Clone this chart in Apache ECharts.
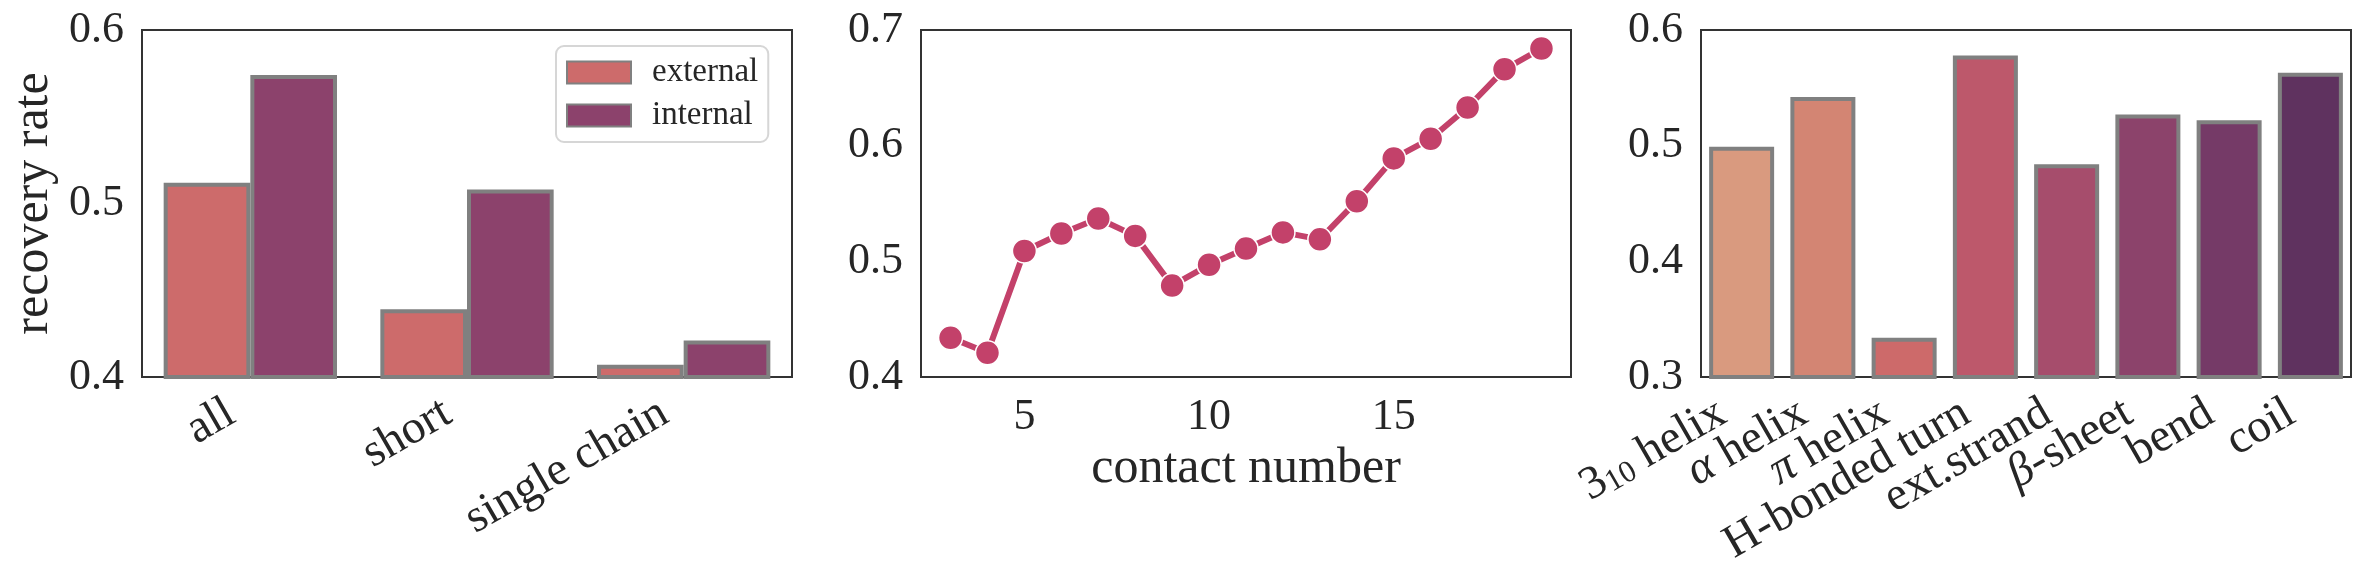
<!DOCTYPE html>
<html>
<head>
<meta charset="utf-8">
<script src="https://cdn.jsdelivr.net/npm/echarts@6/dist/echarts.min.js"></script>
<style>
  html, body { margin: 0; padding: 0; background: #fff; }
  #chart { width: 2365px; height: 583px; }
</style>
</head>
<body>
<div id="chart"></div>
<script>
  // panel 1: recovery rate by chain type
  const chainTypes = ["all", "short", "single chain"];
  const externalRate = [0.512, 0.439, 0.407];
  const internalRate = [0.574, 0.508, 0.421];

  // panel 2: recovery rate by contact number
  const contactNumbers = [3, 4, 5, 6, 7, 8, 9, 10, 11, 12, 13, 14, 15, 16, 17, 18, 19];
  const contactRate = [0.434, 0.421, 0.509, 0.524, 0.537, 0.522, 0.479, 0.497, 0.511,
                       0.525, 0.519, 0.552, 0.589, 0.606, 0.633, 0.666, 0.684];
  const contactTicks = [5, 10, 15];

  // panel 3: recovery rate by secondary structure
  const structures = ["3{sub|10} helix", "{g|α} helix", "{g|π} helix", "H-bonded turn",
                      "ext.strand", "{g|β}-sheet", "bend", "coil"];
  const structureRate = [0.499, 0.542, 0.334, 0.578, 0.484, 0.527, 0.522, 0.563];
  const structureColors = ["#d99a7f", "#d38573", "#cd6a6a", "#bd586b",
                           "#a64d6c", "#8c436b", "#753a67", "#5f325f"];

  const font = "'Liberation Serif', 'DejaVu Serif', serif";
  const textColor = "#262626";
  const edge = "#808080";

  const chart = echarts.init(document.getElementById("chart"));

  function yAxisFor(idx, min, max, extra) {
    return Object.assign({
      type: "value",
      gridIndex: idx,
      min: min,
      max: max,
      interval: 0.1,
      splitLine: { show: false },
      axisTick: { show: false },
      axisLine: { show: false },
      axisLabel: {
        margin: 18,
        fontFamily: font,
        fontSize: 44,
        color: textColor,
        formatter: v => v.toFixed(1)
      }
    }, extra || {});
  }

  const gridBase = { show: true, borderColor: "#333", borderWidth: 2, backgroundColor: "transparent" };

  // rotated tick labels: matplotlib puts the rotated box's right edge on the tick
  const rotatedLabel = {
    interval: 0,
    rotate: 30,
    margin: 22,
    padding: [0, 22, 0, 0],
    fontFamily: font,
    fontSize: 47,
    color: textColor
  };

  const option = {
    animation: false,
    grid: [
      Object.assign({ left: 142, top: 30, width: 650, height: 347 }, gridBase),
      Object.assign({ left: 921, top: 30, width: 650, height: 347 }, gridBase),
      Object.assign({ left: 1701, top: 30, width: 650, height: 347 }, gridBase)
    ],
    legend: {
      data: ["external", "internal"],
      orient: "vertical",
      left: 556,
      top: 46,
      padding: [10, 10, 10, 10],
      itemWidth: 64,
      itemHeight: 22,
      itemGap: 10,
      icon: "rect",
      backgroundColor: "#fff",
      borderColor: "#d6d6d6",
      borderWidth: 2,
      borderRadius: 8,
      textStyle: { fontFamily: font, fontSize: 33, color: textColor, padding: [0, 0, 0, 16] }
    },
    xAxis: [
      {
        type: "category",
        gridIndex: 0,
        data: chainTypes,
        axisTick: { show: false },
        axisLine: { show: false },
        axisLabel: rotatedLabel
      },
      {
        type: "value",
        gridIndex: 1,
        min: 2.2,
        max: 19.8,
        splitLine: { show: false },
        axisTick: { show: false },
        axisLine: { show: false },
        axisLabel: { customValues: contactTicks, margin: 18, fontFamily: font, fontSize: 44, color: textColor },
        name: "contact number",
        nameLocation: "middle",
        nameGap: 64,
        nameTextStyle: { fontFamily: font, fontSize: 50, color: textColor }
      },
      {
        type: "category",
        gridIndex: 2,
        data: structures,
        axisTick: { show: false },
        axisLine: { show: false },
        axisLabel: Object.assign({}, rotatedLabel, {
          rich: {
            sub: { fontFamily: font, fontSize: 31, color: textColor, padding: [15, 0, 0, 0] },
            g: { fontFamily: font, fontSize: 47, fontStyle: "italic", color: textColor }
          }
        })
      }
    ],
    yAxis: [
      yAxisFor(0, 0.4, 0.6, {
        name: "recovery rate",
        nameLocation: "middle",
        nameRotate: 90,
        nameGap: 83,
        nameTextStyle: { fontFamily: font, fontSize: 50, color: textColor }
      }),
      yAxisFor(1, 0.4, 0.7),
      yAxisFor(2, 0.3, 0.6)
    ],
    series: [
      {
        name: "external",
        type: "bar",
        xAxisIndex: 0,
        yAxisIndex: 0,
        data: externalRate,
        barGap: "0%",
        barCategoryGap: "20%",
        itemStyle: { color: "#cd6b6b", borderColor: edge, borderWidth: 4 }
      },
      {
        name: "internal",
        type: "bar",
        xAxisIndex: 0,
        yAxisIndex: 0,
        data: internalRate,
        barGap: "0%",
        barCategoryGap: "20%",
        itemStyle: { color: "#8c426c", borderColor: edge, borderWidth: 4 }
      },
      {
        name: "contact",
        type: "line",
        xAxisIndex: 1,
        yAxisIndex: 1,
        data: contactNumbers.map((c, i) => [c, contactRate[i]]),
        symbol: "circle",
        symbolSize: 24,
        lineStyle: { color: "#c3416a", width: 6 },
        itemStyle: { color: "#c3416a", borderColor: "#fff", borderWidth: 1.5 }
      },
      {
        name: "structure",
        type: "bar",
        xAxisIndex: 2,
        yAxisIndex: 2,
        barCategoryGap: "20%",
        data: structureRate.map((v, i) => ({
          value: v,
          itemStyle: { color: structureColors[i] }
        })),
        itemStyle: { borderColor: edge, borderWidth: 4 }
      }
    ]
  };

  chart.setOption(option);
</script>
</body>
</html>
